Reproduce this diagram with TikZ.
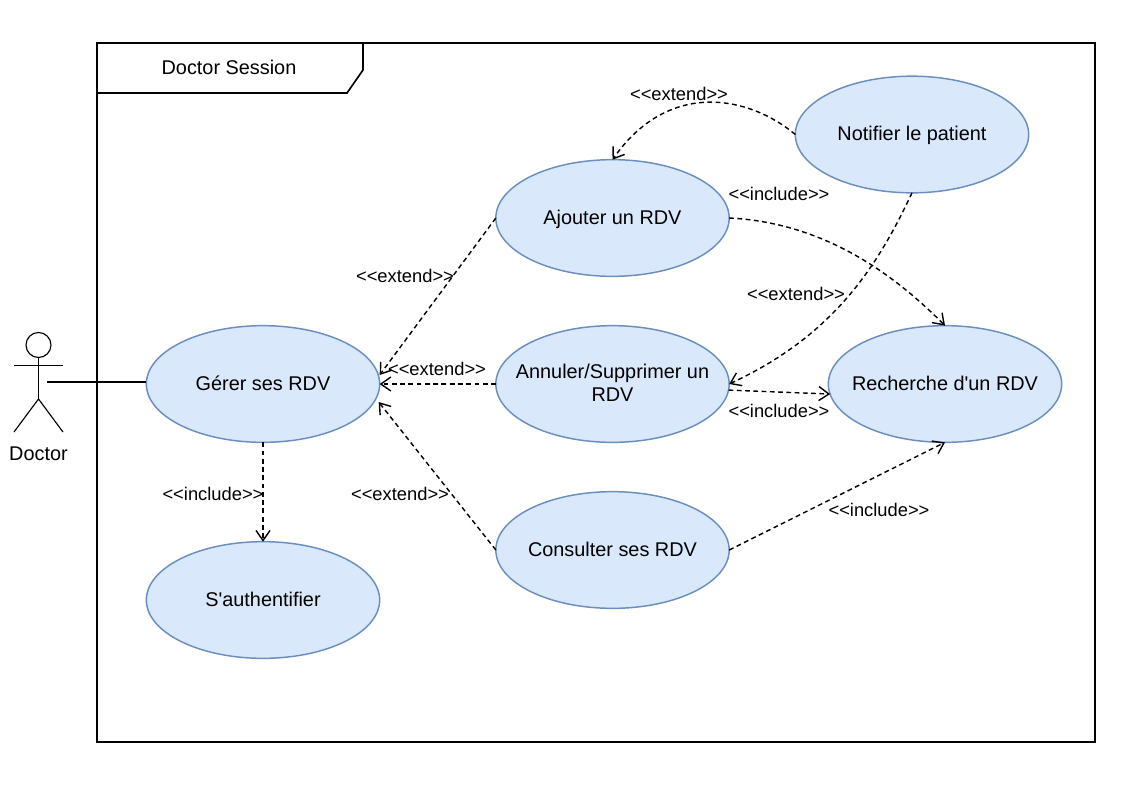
\documentclass[tikz,border=0pt]{standalone}
\usepackage{fontspec}
\setmainfont{Liberation Sans}
\newfontfamily\uifont{Liberation Sans}
\usetikzlibrary{arrows.meta,shapes.geometric}
\definecolor{ucfill}{HTML}{DAE8FC}
\definecolor{ucline}{HTML}{6C8EBF}
\newcommand{\uctext}[1]{\makebox[0pt][c]{\raisebox{-4.85pt}[0pt][0pt]{\begin{tabular}{@{}c@{}}#1\end{tabular}}}}
\tikzset{
  usecase/.style={ellipse,draw=ucline,fill=ucfill,line width=1.1pt,minimum width=175pt,minimum height=87.5pt,inner sep=0pt,font=\uifont\fontsize{14.9}{17.25}\selectfont,outer sep=0pt},
  dep/.style={draw=black,line width=1.05pt,dash pattern=on 3.6pt off 2.6pt,-{Straight Barb[length=7.5pt,width=10.5pt,line width=1.05pt]}},
  stereo/.style={font=\uifont\fontsize{13.75}{16}\selectfont,inner sep=0pt},
  stick/.style={draw=black,line width=0.85pt},
  heavy/.style={draw=black,line width=1.25pt},
}
\begin{document}
\begin{tikzpicture}[x=0.75pt,y=-0.75pt]
\useasboundingbox (0,0) rectangle (1135,793);
\node[minimum width=748.5pt,minimum height=524.25pt,inner sep=0pt,outer sep=0pt] (frame) at (596,392.5) {};
\draw[heavy] (frame.north west) rectangle (frame.south east);
\coordinate (tabA) at (363,43);
\coordinate (tabB) at (363,70);
\coordinate (tabC) at (347,93);
\coordinate (tabD) at (97,93);
\draw[heavy] (tabA) -- (tabB) -- (tabC) -- (tabD);
\node[font=\uifont\fontsize{14.9}{17}\selectfont,inner sep=0pt] (title) at (229,67) {Doctor Session};

% actor
\node[circle,draw=black,line width=0.85pt,minimum size=18.75pt,inner sep=0pt,outer sep=0pt] (head) at (38.5,345) {};
\coordinate (hip) at (38.5,399);
\coordinate (armL) at (14,365.5);
\coordinate (armR) at (63,365.5);
\coordinate (legL) at (14,432);
\coordinate (legR) at (63,432);
\coordinate (handle) at (47,382);
\draw[stick] (head.south) -- (hip);
\draw[stick] (armL) -- (armR);
\draw[stick] (legL) -- (hip) -- (legR);
\node[font=\uifont\fontsize{14.9}{17}\selectfont,inner sep=0pt] (doctor) at (38.5,454) {Doctor};

% use cases
\node[usecase] (gerer) at (263,384) {\uctext{Gérer ses RDV}};
\node[usecase] (auth) at (263,600) {\uctext{S'authentifier}};
\node[usecase] (ajouter) at (612.5,218) {\uctext{Ajouter un RDV}};
\node[usecase] (annuler) at (612.5,384) {\uctext{Annuler/Supprimer un\\RDV}};
\node[usecase] (consulter) at (612.5,550) {\uctext{Consulter ses RDV}};
\node[usecase] (notifier) at (912,134.5) {\uctext{Notifier le patient}};
\node[usecase] (recherche) at (945,384) {\uctext{Recherche d'un RDV}};

% connectors
\draw[heavy] (handle) -- (handle -| gerer.west);
\draw[dep] (gerer.south) -- (auth.north);
\draw[dep] (ajouter.west) -- ([shift={(0,-9)}]gerer.east);
\draw[dep] (annuler.west) -- (gerer.east);
\draw[dep] (consulter.west) -- ([shift={(-1,18)}]gerer.east);
\draw[dep] (notifier.west) .. controls (748,95) and (668,80) .. (ajouter.north);
\draw[dep] (ajouter.east) .. controls (810,222) and (880,260) .. (recherche.north);
\draw[dep] (notifier.south) .. controls (878,265) and (835,335) .. (annuler.east);
\draw[dep] (annuler.-3) -- (recherche.185.5);
\draw[dep] (consulter.east) -- (recherche.south);

% labels
\node[stereo] (l1) at (679,94) {<<extend>>};
\node[stereo] (l2) at (779,194) {<<include>>};
\node[stereo] (l3) at (405,276) {<<extend>>};
\node[stereo] (l4) at (796,294) {<<extend>>};
\node[stereo] (l5) at (437,369) {<<extend>>};
\node[stereo] (l6) at (779,411) {<<include>>};
\node[stereo] (l7) at (213,494) {<<include>>};
\node[stereo] (l8) at (400,494) {<<extend>>};
\node[stereo] (l9) at (879,510) {<<include>>};
\end{tikzpicture}
\end{document}
